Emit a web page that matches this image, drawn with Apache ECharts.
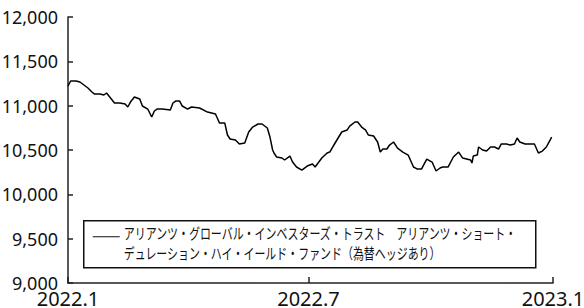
<!DOCTYPE html>
<html>
<head>
<meta charset="utf-8">
<script src="https://cdn.jsdelivr.net/npm/echarts@6/dist/echarts.min.js"></script>
<style>
  html, body { margin: 0; padding: 0; background: #fff; }
  #chart { width: 584px; height: 308px; }
</style>
</head>
<body>
<div id="chart"></div>
<script>
// 基準価額の推移（読み取り値）
const dates = [
  '2022-01-01', '2022-01-03', '2022-01-07', '2022-01-10', '2022-01-13', '2022-01-16', '2022-01-19', '2022-01-21',
  '2022-01-25', '2022-01-28', '2022-01-30', '2022-02-02', '2022-02-05', '2022-02-09', '2022-02-13', '2022-02-15',
  '2022-02-17', '2022-02-20', '2022-02-24', '2022-02-26', '2022-03-02', '2022-03-05', '2022-03-07', '2022-03-09',
  '2022-03-13', '2022-03-19', '2022-03-21', '2022-03-23', '2022-03-26', '2022-03-28', '2022-04-01', '2022-04-04',
  '2022-04-10', '2022-04-16', '2022-04-22', '2022-04-25', '2022-04-29', '2022-05-01', '2022-05-03', '2022-05-07',
  '2022-05-10', '2022-05-14', '2022-05-17', '2022-05-20', '2022-05-24', '2022-05-27', '2022-05-31', '2022-06-02',
  '2022-06-04', '2022-06-05', '2022-06-07', '2022-06-11', '2022-06-13', '2022-06-17', '2022-06-19', '2022-06-22',
  '2022-06-26', '2022-06-30', '2022-07-04', '2022-07-06', '2022-07-11', '2022-07-15', '2022-07-17', '2022-07-21',
  '2022-07-26', '2022-07-30', '2022-08-01', '2022-08-05', '2022-08-07', '2022-08-10', '2022-08-13', '2022-08-15',
  '2022-08-19', '2022-08-22', '2022-08-24', '2022-08-26', '2022-08-29', '2022-08-31', '2022-09-03', '2022-09-06',
  '2022-09-10', '2022-09-14', '2022-09-18', '2022-09-21', '2022-09-24', '2022-09-28', '2022-10-02', '2022-10-05',
  '2022-10-08', '2022-10-10', '2022-10-14', '2022-10-18', '2022-10-22', '2022-10-25', '2022-10-31', '2022-11-01',
  '2022-11-02', '2022-11-05', '2022-11-06', '2022-11-09', '2022-11-12', '2022-11-15', '2022-11-18', '2022-11-21',
  '2022-11-23', '2022-11-27', '2022-11-30', '2022-12-03', '2022-12-05', '2022-12-07', '2022-12-11', '2022-12-18',
  '2022-12-21', '2022-12-24', '2022-12-27', '2022-12-31'
]
const navValues = [
  11222, 11278, 11278, 11267, 11233, 11199, 11154, 11131,
  11131, 11120, 11143, 11086, 11030, 11030, 11019, 10985,
  11041, 11098, 11075, 10996, 10962, 10872, 10940, 10962,
  10962, 10951, 11030, 11052, 11052, 10996, 10962, 10985,
  10974, 10928, 10906, 10804, 10804, 10669, 10624, 10613,
  10567, 10579, 10703, 10759, 10793, 10793, 10748, 10646,
  10500, 10466, 10421, 10410, 10387, 10432, 10364, 10308,
  10274, 10319, 10342, 10308, 10410, 10466, 10477, 10579,
  10703, 10725, 10770, 10816, 10816, 10759, 10725, 10669,
  10658, 10590, 10477, 10511, 10511, 10556, 10590, 10522,
  10477, 10443, 10308, 10285, 10285, 10398, 10364, 10263,
  10297, 10308, 10308, 10421, 10477, 10409, 10387, 10353,
  10432, 10443, 10534, 10500, 10488, 10534, 10534, 10511,
  10567, 10567, 10556, 10567, 10635, 10590, 10567, 10567,
  10466, 10488, 10534, 10646
]
const xTickDates = ['2022-01-01', '2022-07-01', '2023-01-01']
const yTicks = [9000, 9500, 10000, 10500, 11000, 11500, 12000]
const fundName = 'アリアンツ・グローバル・インベスターズ・トラスト　アリアンツ・ショート・\nデュレーション・ハイ・イールド・ファンド（為替ヘッジあり）'

const chart = echarts.init(document.getElementById('chart'), null, { renderer: 'svg' })

const axisColor = '#222'
const toTime = (d) => new Date(d + 'T00:00:00').getTime()
const xTickTimes = xTickDates.map(toTime)

const option = {
  backgroundColor: '#fff',
  animation: false,
  grid: {
    left: 68,
    right: 31,
    top: 17,
    bottom: 25,
    outerBoundsMode: 'none'
  },
  xAxis: {
    type: 'value',
    min: xTickTimes[0],
    max: xTickTimes[xTickTimes.length - 1],
    axisLine: { show: true, lineStyle: { color: axisColor, width: 1.5 } },
    axisTick: {
      show: true,
      inside: true,
      length: 6,
      customValues: xTickTimes,
      lineStyle: { color: axisColor, width: 1.5 }
    },
    axisLabel: {
      customValues: xTickTimes,
      color: '#111',
      fontFamily: 'Noto Sans',
      fontSize: 20,
      margin: 5,
      hideOverlap: false,
      showMinLabel: true,
      showMaxLabel: true,
      formatter: (val) => {
        const d = new Date(val)
        return d.getFullYear() + '.' + (d.getMonth() + 1)
      }
    },
    splitLine: { show: false }
  },
  yAxis: {
    type: 'value',
    min: yTicks[0],
    max: yTicks[yTicks.length - 1],
    interval: 500,
    axisLine: { show: true, lineStyle: { color: axisColor, width: 1.5 } },
    axisTick: { show: true, inside: true, length: 5, lineStyle: { color: axisColor, width: 1.5 } },
    axisLabel: {
      color: '#111',
      fontFamily: 'Noto Sans',
      fontSize: 18,
      margin: 10,
      formatter: (v) => v.toLocaleString('en-US')
    },
    splitLine: { show: false }
  },
  series: [
    {
      name: fundName,
      type: 'line',
      data: dates.map((d, i) => [toTime(d), navValues[i]]),
      showSymbol: false,
      lineStyle: { color: '#000', width: 1.5 },
      itemStyle: { color: '#000' }
    }
  ],
  // 凡例（枠付き）
  graphic: [
    {
      type: 'group',
      left: 83,
      top: 220,
      children: [
        {
          type: 'rect',
          shape: { x: 0, y: 0, width: 452, height: 47 },
          style: { fill: '#fff', stroke: '#111', lineWidth: 1.5 }
        },
        {
          type: 'line',
          shape: { x1: 9, y1: 16, x2: 36, y2: 16 },
          style: { stroke: '#111', lineWidth: 1 }
        },
        {
          type: 'text',
          x: 40,
          y: 2,
          scaleX: 0.73,
          style: {
            text: fundName,
            fill: '#111',
            font: '15px "Noto Sans CJK JP"',
            lineHeight: 20,
            verticalAlign: 'top',
            align: 'left'
          }
        }
      ]
    }
  ]
}

chart.setOption(option)
window.addEventListener('resize', () => chart.resize())
</script>
</body>
</html>
